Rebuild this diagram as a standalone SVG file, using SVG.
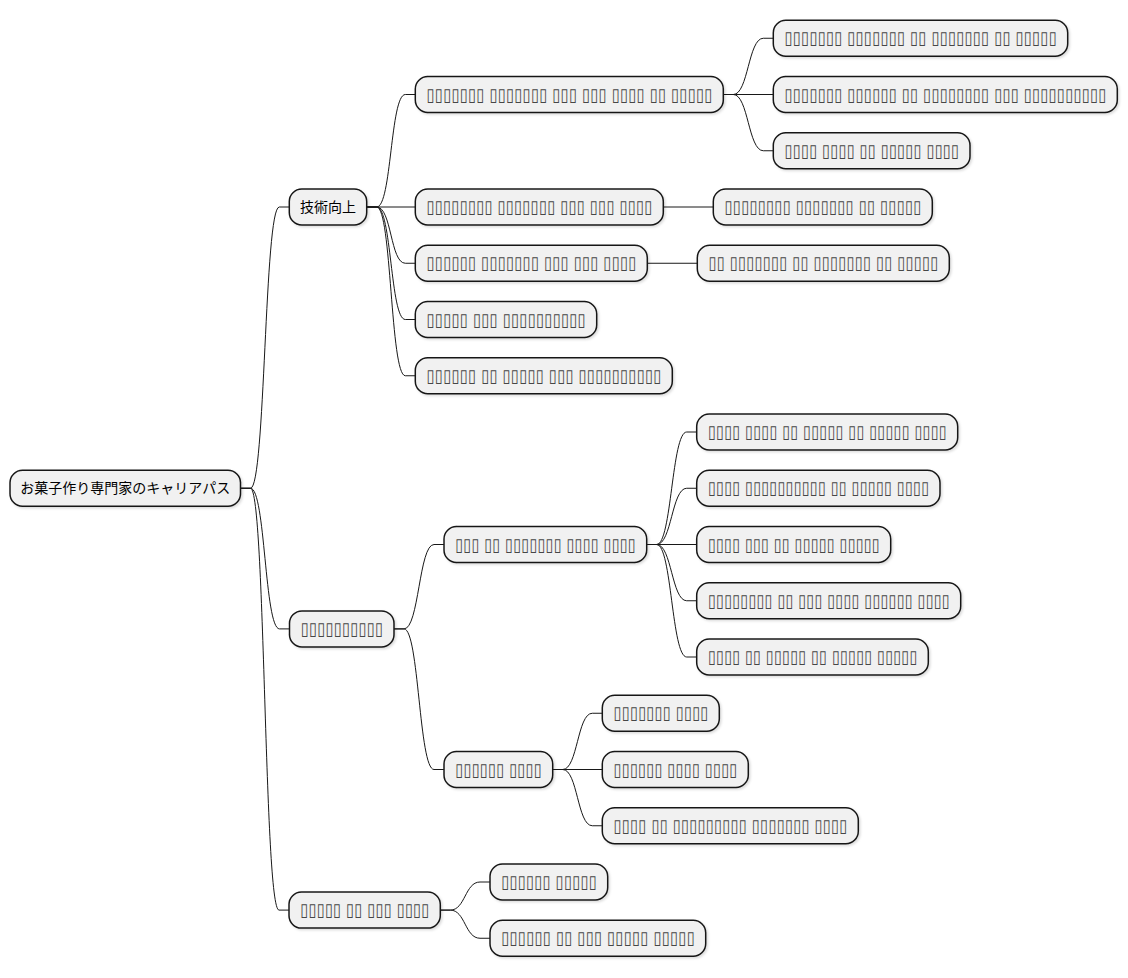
<svg xmlns="http://www.w3.org/2000/svg" width="1128" height="978" viewBox="0 0 1128 978">
<style>
.n rect{fill:#F1F1F1;stroke:#181818;stroke-width:1.5;filter:url(#sh)}
.n text{font-size:14px;fill:#000;text-anchor:middle}
.j{font-family:"Noto Sans CJK JP","Noto Sans CJK SC",sans-serif}
.n text.t{font-family:"DejaVu Sans",sans-serif;fill:#474747;font-size:18px}
.n text.s{font-size:14px}
#edges path{fill:none;stroke:#181818;stroke-width:1}
</style>
<defs>
<filter id="sh" x="-10%" y="-20%" width="120%" height="160%">
<feDropShadow dx="1.5" dy="1.5" stdDeviation="1.2" flood-color="#000" flood-opacity="0.14"/>
</filter>
</defs>
<rect width="1128" height="978" fill="#fff"/>
<g id="edges">
<path d="M240.5,488.25 H250.5 C265.5,488.25 264.3,207 279.3,207 H289.3"/>
<path d="M240.5,488.25 H250.5 C265.5,488.25 264.5,628.9 279.5,628.9 H289.5"/>
<path d="M240.5,488.25 H250.5 C265.5,488.25 264,910.1 279,910.1 H289"/>
<path d="M366.7,207 H376.7 C391.7,207 390.3,94.5 405.3,94.5 H415.3"/>
<path d="M366.7,207 H415.3"/>
<path d="M366.7,207 H376.7 C391.7,207 390.3,263.25 405.3,263.25 H415.3"/>
<path d="M366.7,207 H376.7 C391.7,207 390.3,319.5 405.3,319.5 H415.3"/>
<path d="M366.7,207 H376.7 C391.7,207 390.3,375.75 405.3,375.75 H415.3"/>
<path d="M723.3,94.5 H733.3 C748.3,94.5 748.3,38.25 763.3,38.25 H773.3"/>
<path d="M723.3,94.5 H773.3"/>
<path d="M723.3,94.5 H733.3 C748.3,94.5 748.3,150.75 763.3,150.75 H773.3"/>
<path d="M663.3,207 H713.3"/>
<path d="M647.3,263.25 H697.3"/>
<path d="M394,628.9 H404 C419,628.9 419,544.5 434,544.5 H444"/>
<path d="M394,628.9 H404 C419,628.9 419,769.5 434,769.5 H444"/>
<path d="M646.7,544.5 H656.7 C671.7,544.5 671.7,432 686.7,432 H696.7"/>
<path d="M646.7,544.5 H656.7 C671.7,544.5 671.7,488.25 686.7,488.25 H696.7"/>
<path d="M646.7,544.5 H696.7"/>
<path d="M646.7,544.5 H656.7 C671.7,544.5 671.7,600.75 686.7,600.75 H696.7"/>
<path d="M646.7,544.5 H656.7 C671.7,544.5 671.7,657 686.7,657 H696.7"/>
<path d="M552.7,769.5 H562.7 C577.7,769.5 577.3,713.25 592.3,713.25 H602.3"/>
<path d="M552.7,769.5 H602.3"/>
<path d="M552.7,769.5 H562.7 C577.7,769.5 577.3,825.75 592.3,825.75 H602.3"/>
<path d="M440.3,910.1 H450.3 C465.3,910.1 465,882 480,882 H490"/>
<path d="M440.3,910.1 H450.3 C465.3,910.1 465,938.25 480,938.25 H490"/>
</g>
<g id="root" class="n"><rect x="10" y="470.25" width="230.5" height="36" rx="12.5"/><text class="j" x="125.25" y="493.25">お菓子作り専門家のキャリアパス</text></g>
<g id="l1a" class="n"><rect x="289.3" y="189" width="77.4" height="36" rx="12.5"/><text class="j" x="328" y="212">技術向上</text></g>
<g id="l1b" class="n"><rect x="289.5" y="610.9" width="104.5" height="36" rx="12.5"/><text class="t" x="341.75" y="634.9" textLength="82.5" lengthAdjust="spacingAndGlyphs">▯▯▯▯▯▯▯▯▯▯</text></g>
<g id="l1c" class="n"><rect x="289" y="892.1" width="151.3" height="36" rx="12.5"/><text class="t" x="364.65" y="916.1" textLength="129.3" lengthAdjust="spacingAndGlyphs">▯▯▯▯▯ ▯▯ ▯▯▯ ▯▯▯▯</text></g>
<g id="a" class="n"><rect x="415.3" y="76.5" width="308" height="36" rx="12.5"/><text class="t" x="569.3" y="100.5" textLength="286" lengthAdjust="spacingAndGlyphs">▯▯▯▯▯▯▯ ▯▯▯▯▯▯▯ ▯▯▯ ▯▯▯ ▯▯▯▯ ▯▯ ▯▯▯▯▯</text></g>
<g id="b" class="n"><rect x="415.3" y="189" width="248" height="36" rx="12.5"/><text class="t" x="539.3" y="213" textLength="226" lengthAdjust="spacingAndGlyphs">▯▯▯▯▯▯▯▯ ▯▯▯▯▯▯▯ ▯▯▯ ▯▯▯ ▯▯▯▯</text></g>
<g id="c" class="n"><rect x="415.3" y="245.25" width="232" height="36" rx="12.5"/><text class="t" x="531.3" y="269.25" textLength="210" lengthAdjust="spacingAndGlyphs">▯▯▯▯▯▯ ▯▯▯▯▯▯▯ ▯▯▯ ▯▯▯ ▯▯▯▯</text></g>
<g id="d" class="n"><rect x="415.3" y="301.5" width="181.4" height="36" rx="12.5"/><text class="t" x="506" y="325.5" textLength="159.4" lengthAdjust="spacingAndGlyphs">▯▯▯▯▯ ▯▯▯ ▯▯▯▯▯▯▯▯▯▯</text></g>
<g id="e" class="n"><rect x="415.3" y="357.75" width="257" height="36" rx="12.5"/><text class="t" x="543.8" y="381.75" textLength="235" lengthAdjust="spacingAndGlyphs">▯▯▯▯▯▯ ▯▯ ▯▯▯▯▯ ▯▯▯ ▯▯▯▯▯▯▯▯▯▯</text></g>
<g id="a1" class="n"><rect x="773.3" y="20.25" width="294.4" height="36" rx="12.5"/><text class="t" x="920.5" y="44.25" textLength="272.4" lengthAdjust="spacingAndGlyphs">▯▯▯▯▯▯▯ ▯▯▯▯▯▯▯ ▯▯ ▯▯▯▯▯▯▯ ▯▯ ▯▯▯▯▯</text></g>
<g id="a2" class="n"><rect x="773.3" y="76.5" width="344" height="36" rx="12.5"/><g transform="translate(945.3,100.5) scale(1,1.2857)"><text class="t s" x="0" y="0" textLength="322" lengthAdjust="spacingAndGlyphs">▯▯▯▯▯▯▯ ▯▯▯▯▯▯ ▯▯ ▯▯▯▯▯▯▯▯ ▯▯▯ ▯▯▯▯▯▯▯▯▯▯</text></g></g>
<g id="a3" class="n"><rect x="773.3" y="132.75" width="196.7" height="36" rx="12.5"/><text class="t" x="871.65" y="156.75" textLength="174.7" lengthAdjust="spacingAndGlyphs">▯▯▯▯ ▯▯▯▯ ▯▯ ▯▯▯▯▯ ▯▯▯▯</text></g>
<g id="b1" class="n"><rect x="713.3" y="189" width="219" height="36" rx="12.5"/><text class="t" x="822.8" y="213" textLength="197" lengthAdjust="spacingAndGlyphs">▯▯▯▯▯▯▯▯ ▯▯▯▯▯▯▯ ▯▯ ▯▯▯▯▯</text></g>
<g id="c1" class="n"><rect x="697.3" y="245.25" width="252" height="36" rx="12.5"/><text class="t" x="823.3" y="269.25" textLength="230" lengthAdjust="spacingAndGlyphs">▯▯ ▯▯▯▯▯▯▯ ▯▯ ▯▯▯▯▯▯▯ ▯▯ ▯▯▯▯▯</text></g>
<g id="f" class="n"><rect x="444" y="526.5" width="202.7" height="36" rx="12.5"/><text class="t" x="545.35" y="550.5" textLength="180.7" lengthAdjust="spacingAndGlyphs">▯▯▯ ▯▯ ▯▯▯▯▯▯▯ ▯▯▯▯ ▯▯▯▯</text></g>
<g id="f1" class="n"><rect x="696.7" y="414" width="261" height="36" rx="12.5"/><text class="t" x="827.2" y="438" textLength="239" lengthAdjust="spacingAndGlyphs">▯▯▯▯ ▯▯▯▯ ▯▯ ▯▯▯▯▯ ▯▯ ▯▯▯▯▯ ▯▯▯▯</text></g>
<g id="f2" class="n"><rect x="696.7" y="470.25" width="243.3" height="36" rx="12.5"/><text class="t" x="818.35" y="494.25" textLength="221.3" lengthAdjust="spacingAndGlyphs">▯▯▯▯ ▯▯▯▯▯▯▯▯▯▯ ▯▯ ▯▯▯▯▯ ▯▯▯▯</text></g>
<g id="f3" class="n"><rect x="696.7" y="526.5" width="194" height="36" rx="12.5"/><text class="t" x="793.7" y="550.5" textLength="172" lengthAdjust="spacingAndGlyphs">▯▯▯▯ ▯▯▯ ▯▯ ▯▯▯▯▯ ▯▯▯▯▯</text></g>
<g id="f4" class="n"><rect x="696.7" y="582.75" width="264" height="36" rx="12.5"/><text class="t" x="828.7" y="606.75" textLength="242" lengthAdjust="spacingAndGlyphs">▯▯▯▯▯▯▯▯ ▯▯ ▯▯▯ ▯▯▯▯ ▯▯▯▯▯▯ ▯▯▯▯</text></g>
<g id="f5" class="n"><rect x="696.7" y="639" width="231.6" height="36" rx="12.5"/><text class="t" x="812.5" y="663" textLength="209.6" lengthAdjust="spacingAndGlyphs">▯▯▯▯ ▯▯ ▯▯▯▯▯ ▯▯ ▯▯▯▯▯ ▯▯▯▯▯</text></g>
<g id="g" class="n"><rect x="444" y="751.5" width="108.7" height="36" rx="12.5"/><text class="t" x="498.35" y="775.5" textLength="86.7" lengthAdjust="spacingAndGlyphs">▯▯▯▯▯▯ ▯▯▯▯</text></g>
<g id="g1" class="n"><rect x="602.3" y="695.25" width="117" height="36" rx="12.5"/><text class="t" x="660.8" y="719.25" textLength="95" lengthAdjust="spacingAndGlyphs">▯▯▯▯▯▯▯ ▯▯▯▯</text></g>
<g id="g2" class="n"><rect x="602.3" y="751.5" width="146" height="36" rx="12.5"/><text class="t" x="675.3" y="775.5" textLength="124" lengthAdjust="spacingAndGlyphs">▯▯▯▯▯▯ ▯▯▯▯ ▯▯▯▯</text></g>
<g id="g3" class="n"><rect x="602.3" y="807.75" width="256" height="36" rx="12.5"/><text class="t" x="730.3" y="831.75" textLength="234" lengthAdjust="spacingAndGlyphs">▯▯▯▯ ▯▯ ▯▯▯▯▯▯▯▯▯ ▯▯▯▯▯▯▯ ▯▯▯▯</text></g>
<g id="h1" class="n"><rect x="490" y="864" width="117.7" height="36" rx="12.5"/><text class="t" x="548.85" y="888" textLength="95.7" lengthAdjust="spacingAndGlyphs">▯▯▯▯▯▯ ▯▯▯▯▯</text></g>
<g id="h2" class="n"><rect x="490" y="920.25" width="215.7" height="36" rx="12.5"/><text class="t" x="597.85" y="944.25" textLength="193.7" lengthAdjust="spacingAndGlyphs">▯▯▯▯▯▯ ▯▯ ▯▯▯ ▯▯▯▯▯ ▯▯▯▯▯</text></g>
</svg>
